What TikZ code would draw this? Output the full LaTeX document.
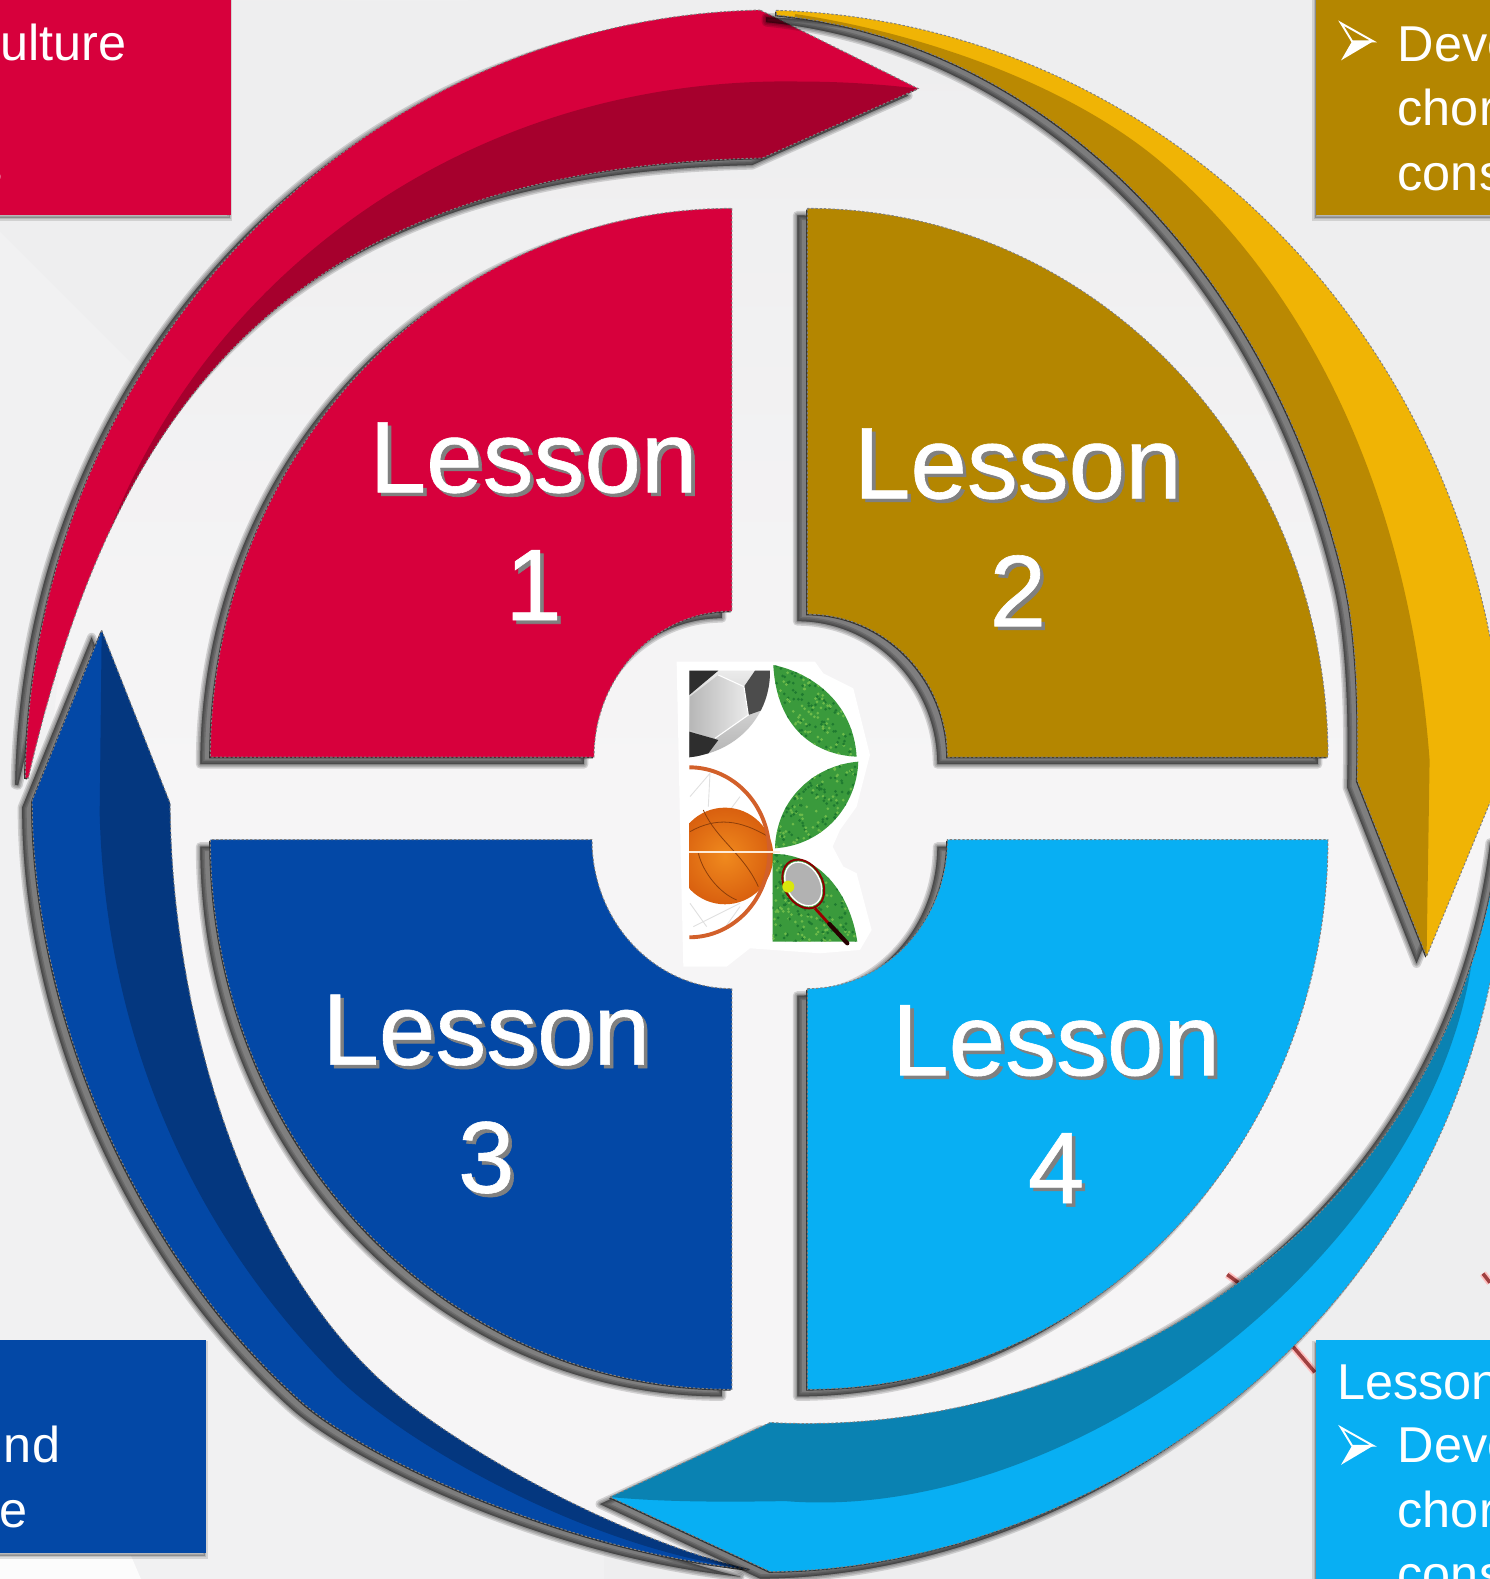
\documentclass[tikz,border=0pt]{standalone}
\usepackage{fontspec}
\setmainfont{Liberation Sans}
\newfontfamily\lessonfont[FakeBold=0.6]{Liberation Sans}
\usetikzlibrary{calc}
\definecolor{redA}{HTML}{D7003C}
\definecolor{redB}{HTML}{A6002D}
\definecolor{goldS}{HTML}{B48600}
\definecolor{goldA}{HTML}{F0B405}
\definecolor{goldB}{HTML}{BA8902}
\definecolor{blueA}{HTML}{0348A6}
\definecolor{blueB}{HTML}{04377F}
\definecolor{cyanA}{HTML}{08AFF3}
\definecolor{cyanB}{HTML}{0A82B2}
\definecolor{bgA}{HTML}{EEEEEF}
\definecolor{bgB}{HTML}{F6F5F6}
\definecolor{bgW}{HTML}{FCFCFC}
\definecolor{grassA}{HTML}{3A9A3C}
\definecolor{grassB}{HTML}{6DBB4A}
\definecolor{grassC}{HTML}{1F7A30}
\definecolor{orangeA}{HTML}{F08A1E}
\definecolor{orangeB}{HTML}{D9600F}
\definecolor{rimC}{HTML}{D2602A}
\newcommand{\rsShape}[3]{%
  \begin{scope}[shift={(-10,-7)}]
    \foreach \w in {9,6,3,.5}{\path[draw=black,fill=black,draw opacity=.15,fill opacity=.15,line join=round,line width=\w*0.5669pt] #2;}
  \end{scope}
  \path[fill=black!80,shift={(-1.2,-1.2)}] #2;
  \path[fill=#1] #2;
  \begin{scope}\clip #2; #3 \end{scope}
  \path[draw=black!50,line width=.55pt,dash pattern=on 1.3pt off 1.1pt] #2;
}
\newcommand{\rsBox}[2]{%
  \begin{scope}[shift={(-1,-3)}]
    \foreach \w in {5,2}{\path[draw=black,fill=black,draw opacity=.12,fill opacity=.12,line width=\w*0.5669pt] #2;}
  \end{scope}
  \path[fill=#1] #2;
}
\newcommand{\rsMark}[1]{%
  \path[draw=white,line width=1.1pt,line join=miter] ($(#1)+(0,18)$) -- ($(#1)+(32,0)$) -- ($(#1)+(11,0)$) -- cycle;
  \path[fill=white] ($(#1)+(32,0)$) -- ($(#1)+(11,0)$) -- ($(#1)+(0,-19)$) -- cycle;
}
\newcommand{\rsLine}[1]{\leavevmode\rlap{\kern 2pt\raisebox{-2pt}{\color{black!50}#1}}#1}
\tikzset{
  bigtext/.style={align=center,inner sep=0pt,font=\lessonfont\fontsize{57.5}{72.3}\selectfont,text=white},
  boxtext/.style={anchor=base west,inner sep=0pt,font=\fontsize{28.5}{36}\selectfont,text=white},
  boxtextR/.style={anchor=base east,inner sep=0pt,font=\fontsize{28.5}{36}\selectfont,text=white},
}
\begin{document}
\begin{tikzpicture}[x=0.02cm,y=0.02cm]
\useasboundingbox (0,0) rectangle (1480,-1568.4);
\clip (0,0) rectangle (1480,-1568.4);
% background
\fill[bgA] (0,0) rectangle (1480,-1568.4);
\fill[color=bgA!60!bgB] (0,-230) -- (600,-830) -- (600,-1568.4) -- (0,-1568.4) -- cycle;
\shade[top color=bgA,bottom color=bgB,middle color=bgB] (770,-786) ellipse [x radius=720,y radius=750];
\shade[left color=bgW,middle color=bgW,right color=bgB,shading angle=-45] (0,0) -- (465,0) -- (910,445) -- (600,790) -- (0,235) -- cycle;
\fill[bgW] (0,-1545) -- (130,-1545) -- (140,-1568.4) -- (0,-1568.4) -- cycle;
% faint red lines
\foreach \a/\b/\c/\d in {1219/-1266/1230/-1274,1283/-1336/1306/-1363,1473/-1265/1480/-1274}{
  \draw[red!25,line width=4pt] (\a,\b) -- (\c,\d);
  \draw[red!50!black!75,line width=2pt] (\a,\b) -- (\c,\d);
}
% swooshes
\rsShape{redA}{(755,-10) arc[start angle=91.15,end angle=179,x radius=745,y radius=776] -- (28,-773) .. controls (108,-430) and (263,-167) .. (757,-157) -- (912,-88) -- cycle}
{\fill[redB] (912,-88) .. controls (870,-83) and (830,-81) .. (795,-81) .. controls (470,-75) and (205,-270) .. (106,-535) -- (300,-500) -- (800,-300) -- cycle;}
\rsShape{goldA}{(771,-10.3) arc[start angle=88.4,end angle=2.1,x radius=745,y radius=780] -- (1417,-950) -- (1348,-775) .. controls (1350,-700) and (1347,-628) .. (1335,-576) arc[start angle=16,end angle=85.4,x radius=640,y radius=778] -- cycle}
{\fill[goldB] (1417,-950) -- (1420,-755) .. controls (1400,-490) and (1300,-290) .. (1159,-166) .. controls (1060,-79) and (900,-30) .. (790,-14) -- (700,-300) -- (1300,-900) -- cycle;}
\rsShape{blueA}{(101,-626) -- (169,-798) .. controls (170,-1000) and (240,-1262) .. (400,-1390) .. controls (470,-1446) and (620,-1530) .. (745,-1559) .. controls (560,-1540) and (360,-1447) .. (298,-1391) .. controls (130,-1240) and (32,-1000) .. (32,-795) -- cycle}
{\fill[blueB] (101,-626) -- (99,-808) .. controls (104,-1000) and (170,-1200) .. (331,-1364) .. controls (390,-1425) and (570,-1535) .. (745,-1559) -- (900,-1200) -- (400,-700) -- cycle;}
\rsShape{cyanA}{(606,-1487) -- (765,-1413) .. controls (1075,-1430) and (1440,-1230) .. (1490,-830) -- (1520,-830) -- (1495,-880) .. controls (1450,-1346) and (1050,-1560) .. (765,-1561) -- cycle}
{\fill[cyanB] (606,-1487) .. controls (660,-1492) and (720,-1492) .. (780,-1491) .. controls (1078,-1515) and (1440,-1225) .. (1465,-930) -- (1480,-800) -- (1000,-1000) -- (606,-1300) -- cycle;}
% sectors
\rsShape{redA}{(727,-207) -- (727,-607) arc[start angle=90,end angle=180,x radius=137,y radius=145] -- (209,-752) arc[start angle=180,end angle=90,x radius=518,y radius=545] -- cycle}{}
\rsShape{goldS}{(802,-207) -- (802,-610) arc[start angle=90,end angle=0,x radius=139,y radius=142] -- (1319,-752) arc[start angle=0,end angle=90,x radius=517,y radius=545] -- cycle}{}
\rsShape{blueA}{(727,-982) -- (727,-1380) arc[start angle=270,end angle=180,x radius=518,y radius=546] -- (588,-834) arc[start angle=180,end angle=270,x radius=139,y radius=148] -- cycle}{}
\rsShape{cyanA}{(802,-982) -- (802,-1380) arc[start angle=270,end angle=360,x radius=517,y radius=546] -- (941,-834) arc[start angle=0,end angle=-90,x radius=139,y radius=148] -- cycle}{}
% centre emblem (coordinates in a 3x crop of the reference)
\begin{scope}[shift={(635.7,-635.7)},x=0.006622cm,y=0.006622cm]
\fill[white] (110,-65) -- (525,-65) -- (550,-100) -- (640,-145) -- (690,-345) -- (650,-500) -- (600,-570) -- (578,-620) -- (610,-680) -- (650,-700) -- (695,-870) -- (660,-930) -- (540,-940) -- (330,-925) -- (260,-980) -- (130,-980) -- (122,-640) -- cycle;
% soccer ball
\begin{scope}
\clip (148,-92) -- (390,-92) .. controls (392,-220) and (300,-335) .. (148,-352) -- cycle;
\shade[top color=black!8,bottom color=black!30] (148,-92) rectangle (395,-355);
\shade[left color=black!28,right color=black!8] (235,-105) -- (312,-140) -- (325,-225) -- (225,-295) -- (150,-270) -- (150,-170) -- cycle;
\fill[black!82] (148,-92) -- (235,-92) -- (148,-165) -- cycle;
\fill[black!70] (345,-92) -- (395,-92) -- (395,-200) -- (325,-225) -- (312,-140) -- cycle;
\fill[black!82] (148,-275) -- (235,-300) -- (205,-340) -- (148,-355) -- cycle;
\draw[white,line width=.6pt] (235,-105) -- (312,-140) -- (325,-225) -- (225,-295);
\end{scope}
% net and basketball
\draw[black!12,line width=.5pt] (210,-400) -- (150,-470) (210,-400) -- (205,-500) (300,-470) -- (270,-510) (150,-790) -- (200,-860) (300,-800) -- (250,-870) (160,-860) -- (300,-790);
\begin{scope}
\clip (148,-480) rectangle (400,-800);
\shade[inner color=orangeA,outer color=orangeB] (255,-648) circle (145);
\draw[black!35!orangeB,line width=.45pt] (190,-510) .. controls (230,-600) and (310,-640) .. (355,-740);
\draw[black!35!orangeB,line width=.45pt] (150,-575) .. controls (230,-530) and (300,-540) .. (385,-590);
\draw[black!35!orangeB,line width=.45pt] (175,-640) .. controls (190,-700) and (240,-760) .. (290,-780);
\end{scope}
\draw[rimC,line width=2.2pt] (148,-382) arc[start angle=90,end angle=-90,x radius=240,y radius=255];
\draw[white!85!orange,line width=1pt] (148,-635) -- (420,-635);
% grass
\begin{scope}
\clip (400,-75) .. controls (520,-100) and (640,-190) .. (650,-350) .. controls (530,-345) and (410,-270) .. (400,-75) -- cycle
 (655,-365) .. controls (530,-375) and (410,-470) .. (405,-625) .. controls (550,-615) and (650,-500) .. (655,-365) -- cycle
 (398,-642) .. controls (540,-640) and (630,-760) .. (652,-905) -- (398,-905) -- cycle;
\fill[grassA] (390,-60) rectangle (670,-915);
\pgfmathsetseed{7}
\foreach \i in {1,...,380}{
  \pgfmathsetmacro\px{395+rnd*265}\pgfmathsetmacro\py{70+rnd*840}
  \fill[grassB] (\px,-\py) circle (4.5);
  \pgfmathsetmacro\px{395+rnd*265}\pgfmathsetmacro\py{70+rnd*840}
  \fill[grassC] (\px,-\py) circle (4.5);
}
\end{scope}
% racket
\draw[red!60!black,line width=1.6pt] (525,-805) -- (570,-855);
\draw[black!85!red,line width=2.4pt,line cap=round] (568,-852) -- (622,-910);
\draw[red!55!black,line width=1.1pt,rotate around={30:(490,-732)}] (490,-732) ellipse [x radius=57,y radius=78];
\fill[black!30,draw=white,line width=.8pt,rotate around={30:(490,-732)}] (490,-732) ellipse [x radius=50,y radius=70];
\fill[yellow!85!green] (445,-740) circle (18);
\end{scope}
% text boxes
\rsBox{redA}{(-10,10) rectangle (229,-214)}
\rsBox{goldS}{(1307,10) rectangle (1490,-214)}
\rsBox{blueA}{(-10,-1331) rectangle (205,-1543)}
\rsBox{cyanA}{(1307,-1331) rectangle (1490,-1580)}
\node[boxtextR] (t1a) at (126,-60) {ulture};
\node[boxtextR] (t1b) at (3,-183) {s};
\coordinate (m2) at (1332,-41);
\rsMark{m2}
\node[boxtext] (t2a) at (1388,-61) {Deve};
\node[boxtext] (t2b) at (1388,-125) {chor};
\node[boxtext] (t2c) at (1388,-189) {cons};
\node[boxtextR] (t3a) at (60,-1453) {nd};
\node[boxtextR] (t3b) at (28,-1517) {e};
\node[boxtext] (t4h) at (1328,-1390) {Lesson};
\coordinate (m4) at (1332,-1436);
\rsMark{m4}
\node[boxtext] (t4a) at (1388,-1453) {Deve};
\node[boxtext] (t4b) at (1388,-1517) {chor};
\node[boxtext] (t4c) at (1388,-1581) {cons};
% big labels
\foreach \nm/\cx/\cy/\n in {a/530/519.5/1,b/1011/525.5/2,c/483/1088.5/3,d/1049/1098.5/4}{
  \node[bigtext] (l\nm) at (\cx,-\cy) {\rsLine{Lesson}\\\rsLine{\n}};
}
\end{tikzpicture}
\end{document}
